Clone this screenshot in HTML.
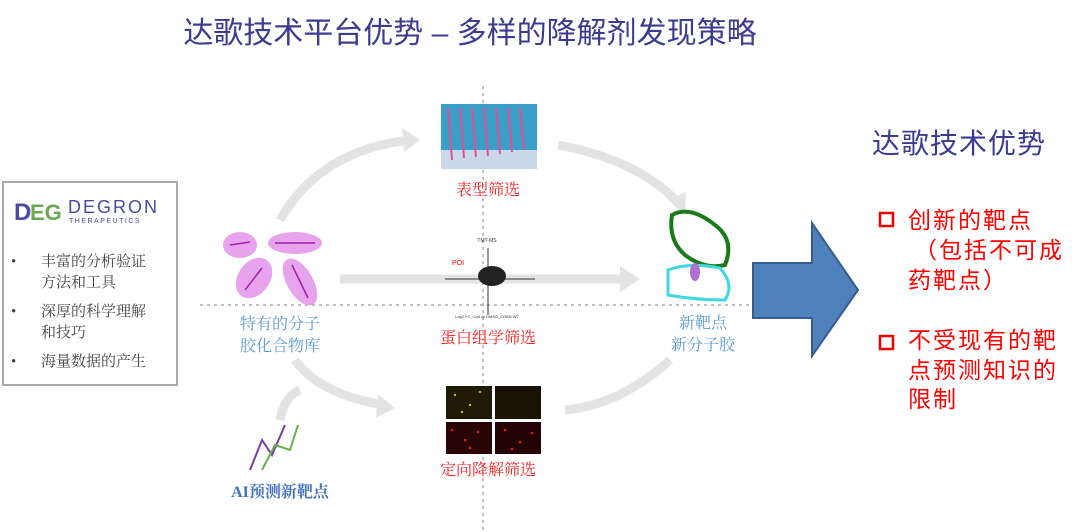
<!DOCTYPE html>
<html><head><meta charset="utf-8"><style>
body{margin:0;width:1080px;height:532px;background:#fff;overflow:hidden}
svg{display:block}
text{font-family:"Liberation Serif","Noto Serif CJK SC","Noto Sans CJK SC",serif}
.s{font-family:"Liberation Sans","Noto Sans CJK SC",sans-serif}
</style></head><body>
<svg width="1080" height="532" viewBox="0 0 1080 532">
<text class="s" x="470" y="43" font-size="30" fill="#3b3b8f" text-anchor="middle">达歌技术平台优势 – 多样的降解剂发现策略</text>
<line x1="483" y1="86" x2="483" y2="532" stroke="#999" stroke-dasharray="3,4" stroke-width="1.2"/>
<line x1="200" y1="305" x2="752" y2="305" stroke="#999" stroke-dasharray="3,4" stroke-width="1.2"/>
<g fill="none" stroke="#e3e3e3" stroke-width="9">
<path d="M280 220 Q320 150 410 140"/>
<path d="M558 145 Q640 160 680 205"/>
<path d="M340 279 L620 279"/>
<path d="M670 360 Q620 405 565 410"/>
<path d="M295 360 Q320 395 385 405"/>
<path d="M280 420 Q285 395 300 390"/>
</g>
<g fill="#e3e3e3">
<polygon points="420,140 402,128 404,152"/>
<polygon points="685,215 668,200 686,192"/>
<polygon points="640,279 620,266 620,292"/>
<polygon points="395,408 378,394 376,418"/>
</g>
<rect x="3" y="182" width="174" height="203" fill="#fff" stroke="#aaa" stroke-width="2"/>
<text x="14" y="220" font-size="24" font-weight="bold" fill="#4a4aa0" class="s">D</text>
<text x="30" y="220" font-size="22" font-weight="bold" fill="#6aa84f" class="s">EG</text>
<text x="68" y="213" font-size="18" fill="#4a4aa0" letter-spacing="2" class="s">DEGRON</text>
<text x="69" y="223" font-size="7" fill="#4a4aa0" letter-spacing="1.5" class="s">THERAPEUTICS</text>
<g font-size="15" fill="#444">
<text x="11" y="266">•</text><text x="41" y="266">丰富的分析验证</text>
<text x="41" y="287">方法和工具</text>
<text x="11" y="316">•</text><text x="41" y="316">深厚的科学理解</text>
<text x="41" y="337">和技巧</text>
<text x="11" y="366">•</text><text x="41" y="366">海量数据的产生</text>
</g>
<g fill="#e59ae9" opacity="0.9">
<ellipse cx="240" cy="245" rx="17" ry="13"/>
<ellipse cx="295" cy="243" rx="27" ry="11"/>
<ellipse cx="254" cy="278" rx="16" ry="22" transform="rotate(35 254 278)"/>
<ellipse cx="300" cy="282" rx="13" ry="26" transform="rotate(-30 300 282)"/>
</g>
<g stroke="#a020b0" stroke-width="1.5" fill="none"><path d="M230 245 L250 242"/><path d="M275 243 L315 243"/><path d="M245 290 L262 268"/><path d="M292 265 L308 298"/></g>
<text x="280" y="329" font-size="16" fill="#5b9bd5" text-anchor="middle">特有的分子</text>
<text x="280" y="351" font-size="16" fill="#5b9bd5" text-anchor="middle">胶化合物库</text>
<rect x="441" y="104" width="96" height="65" fill="#3aa0c8"/>
<rect x="441" y="150" width="96" height="19" fill="#c9d8ec"/>
<g stroke="#e0509a" stroke-width="2"><line x1="448" y1="108" x2="452" y2="160"/><line x1="460" y1="108" x2="464" y2="158"/><line x1="472" y1="108" x2="476" y2="157"/><line x1="484" y1="108" x2="488" y2="156"/><line x1="496" y1="108" x2="500" y2="154"/><line x1="508" y1="108" x2="512" y2="152"/><line x1="520" y1="108" x2="524" y2="150"/></g>
<text x="488" y="195" font-size="16" fill="#ff2020" text-anchor="middle">表型筛选</text>
<line x1="445" y1="279" x2="535" y2="279" stroke="#333"/>
<line x1="488" y1="248" x2="488" y2="315" stroke="#333"/>
<ellipse cx="492" cy="276" rx="14" ry="10" fill="#222"/>
<text x="487" y="242" font-size="5" fill="#333" text-anchor="middle" class="s">TMT-MS</text>
<text x="452" y="265" font-size="7" fill="#e00" class="s">POI</text>
<text x="487" y="318" font-size="4" fill="#333" text-anchor="middle" class="s">Log2 FC_Cpd vs DMSO_CRBN WT</text>
<text x="488" y="343" font-size="16" fill="#ff2020" text-anchor="middle">蛋白组学筛选</text>
<rect x="445" y="385" width="97" height="70" fill="#fff"/>
<rect x="446" y="386" width="46" height="33" fill="#1e1a05"/>
<rect x="495" y="386" width="46" height="33" fill="#1a1205"/>
<rect x="446" y="422" width="46" height="32" fill="#2a0505"/>
<rect x="495" y="422" width="46" height="32" fill="#240404"/>
<g fill="#aacc22"><circle cx="455" cy="395" r="1.2"/><circle cx="470" cy="405" r="1.2"/><circle cx="480" cy="392" r="1.2"/><circle cx="462" cy="412" r="1.2"/></g>
<g fill="#dd2020"><circle cx="452" cy="430" r="1.3"/><circle cx="465" cy="440" r="1.3"/><circle cx="478" cy="432" r="1.3"/><circle cx="470" cy="448" r="1.3"/><circle cx="505" cy="430" r="1.3"/><circle cx="520" cy="442" r="1.3"/><circle cx="532" cy="433" r="1.3"/><circle cx="512" cy="449" r="1.3"/></g>
<text x="488" y="475" font-size="16" fill="#ff2020" text-anchor="middle">定向降解筛选</text>
<path d="M672 215 Q690 205 715 225 Q735 240 725 265 Q705 270 685 255 Q668 240 672 215Z" fill="none" stroke="#1a7a1a" stroke-width="4"/>
<path d="M668 270 Q690 262 720 268 Q735 285 725 300 Q695 300 668 295Z" fill="none" stroke="#3dd8e0" stroke-width="3"/>
<ellipse cx="695" cy="272" rx="5" ry="9" fill="#b070d0"/>
<text x="703" y="328" font-size="16" fill="#5b9bd5" text-anchor="middle">新靶点</text>
<text x="703" y="350" font-size="16" fill="#5b9bd5" text-anchor="middle">新分子胶</text>
<g fill="none" stroke-width="2"><path d="M250 470 L262 440 L272 455 L285 425" stroke="#7a3fa0"/><path d="M262 470 L275 445 L290 450 L298 425" stroke="#6ab04c"/></g>
<text x="280" y="497" font-size="16" fill="#4472c4" font-weight="bold" text-anchor="middle">AI预测新靶点</text>
<polygon points="753,263 812,263 812,223 858,290 812,356 812,318 753,318" fill="#4f81bd" stroke="#385d8a" stroke-width="2"/>
<text class="s" x="872" y="153" font-size="28" fill="#3b3b8f" letter-spacing="1">达歌技术优势</text>
<g font-size="23" fill="#ff0000">
<rect x="880" y="213" width="13" height="13" fill="none" stroke="#e00" stroke-width="2.5"/>
<text class="s" x="908" y="228" letter-spacing="2">创新的靶点</text>
<text class="s" x="914" y="258" letter-spacing="2">（包括不可成</text>
<text class="s" x="908" y="288" letter-spacing="2">药靶点）</text>
<rect x="880" y="336" width="13" height="13" fill="none" stroke="#e00" stroke-width="2.5"/>
<text class="s" x="908" y="348" letter-spacing="2">不受现有的靶</text>
<text class="s" x="908" y="378" letter-spacing="2">点预测知识的</text>
<text class="s" x="908" y="407" letter-spacing="2">限制</text>
</g>
</svg>
</body></html>
